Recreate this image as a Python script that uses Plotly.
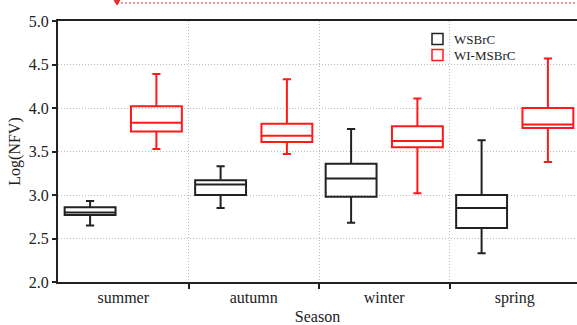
import plotly.graph_objects as go

seasons = ["summer", "autumn", "winter", "spring"]

ws_low = [2.65, 2.85, 2.68, 2.33]
ws_q1 = [2.77, 3.00, 2.98, 2.62]
ws_med = [2.80, 3.12, 3.19, 2.85]
ws_q3 = [2.86, 3.17, 3.36, 3.00]
ws_high = [2.93, 3.33, 3.76, 3.63]

wi_low = [3.53, 3.47, 3.02, 3.38]
wi_q1 = [3.73, 3.61, 3.55, 3.77]
wi_med = [3.83, 3.68, 3.62, 3.81]
wi_q3 = [4.02, 3.82, 3.79, 4.00]
wi_high = [4.39, 4.33, 4.11, 4.57]

series_names = ["WSBrC", "WI-MSBrC"]
series_colors = ["#222222", "#ff1a1a"]

offset = 0.254
xpos = list(range(len(seasons)))

fig = go.Figure()
fig.add_trace(go.Box(
    name=series_names[0], x=[p - offset for p in xpos],
    q1=ws_q1, median=ws_med, q3=ws_q3, lowerfence=ws_low, upperfence=ws_high,
    width=0.39, whiskerwidth=0.16, fillcolor="rgba(0,0,0,0)",
    line=dict(color=series_colors[0], width=2), boxpoints=False, showlegend=False,
))
fig.add_trace(go.Box(
    name=series_names[1], x=[p + offset for p in xpos],
    q1=wi_q1, median=wi_med, q3=wi_q3, lowerfence=wi_low, upperfence=wi_high,
    width=0.39, whiskerwidth=0.16, fillcolor="rgba(0,0,0,0)",
    line=dict(color=series_colors[1], width=2), boxpoints=False, showlegend=False,
))

serif = "Liberation Serif"
PW, PH, L, T = 519, 261, 58, 21


def px(xp):
    return (xp - L) / PW


def py(yp):
    return (T + PH - yp) / PH


shapes = [
    dict(type="line", xref="paper", yref="paper",
         x0=px(117), x1=1.0, y0=py(3), y1=py(3),
         line=dict(color="#e03030", width=1, dash="2px,2px")),
    dict(type="path", xref="paper", yref="paper",
         path="M %f %f L %f %f L %f %f Z" % (px(114), py(0), px(120), py(0), px(117), py(5)),
         fillcolor="#e03030", line=dict(color="#e03030", width=1)),
]
annotations = []
for i, (nm, col) in enumerate(zip(series_names, series_colors)):
    cy = 39 + 16 * i
    shapes.append(dict(type="rect", xref="paper", yref="paper",
                       x0=px(432), x1=px(443), y0=py(cy + 5.5), y1=py(cy - 5.5),
                       line=dict(color=col, width=1.5), fillcolor="rgba(0,0,0,0)"))
    annotations.append(dict(xref="paper", yref="paper", x=px(452), y=py(cy),
                            text=nm, showarrow=False, xanchor="left", yanchor="middle",
                            font=dict(family=serif, size=13, color="#222222")))

fig.update_layout(
    width=577, height=325,
    margin=dict(l=L, r=0, t=T, b=43),
    paper_bgcolor="white", plot_bgcolor="white",
    font=dict(family=serif, size=16, color="#222222"),
    showlegend=False,
    xaxis=dict(
        range=[-0.5, 3.477],
        tickmode="array", tickvals=xpos, ticktext=seasons,
        ticks="", showgrid=False, zeroline=False,
        showline=True, linecolor="#222222", linewidth=2, mirror=True,
        minor=dict(tickvals=[0.5, 1.5, 2.5], ticks="outside", ticklen=5,
                   tickcolor="#222222", tickwidth=2,
                   showgrid=True, griddash="1px,2px", gridcolor="#bbbbbb", gridwidth=1),
        title=dict(text="Season", font=dict(family=serif, size=16), standoff=8),
        tickfont=dict(family=serif, size=16),
    ),
    yaxis=dict(
        range=[2.0, 5.0], tickvals=[2.0, 2.5, 3.0, 3.5, 4.0, 4.5, 5.0],
        ticktext=["2.0", "2.5", "3.0", "3.5", "4.0", "4.5", "5.0"],
        ticks="outside", ticklen=4, tickwidth=2, tickcolor="#222222",
        showgrid=True, griddash="1px,2px", gridcolor="#bbbbbb", gridwidth=1,
        zeroline=False, showline=True, linecolor="#222222", linewidth=2,
        title=dict(text="Log(NFV)", font=dict(family=serif, size=16), standoff=4),
        tickfont=dict(family=serif, size=16),
    ),
    shapes=shapes,
    annotations=annotations,
)

fig.write_html("out.html")
